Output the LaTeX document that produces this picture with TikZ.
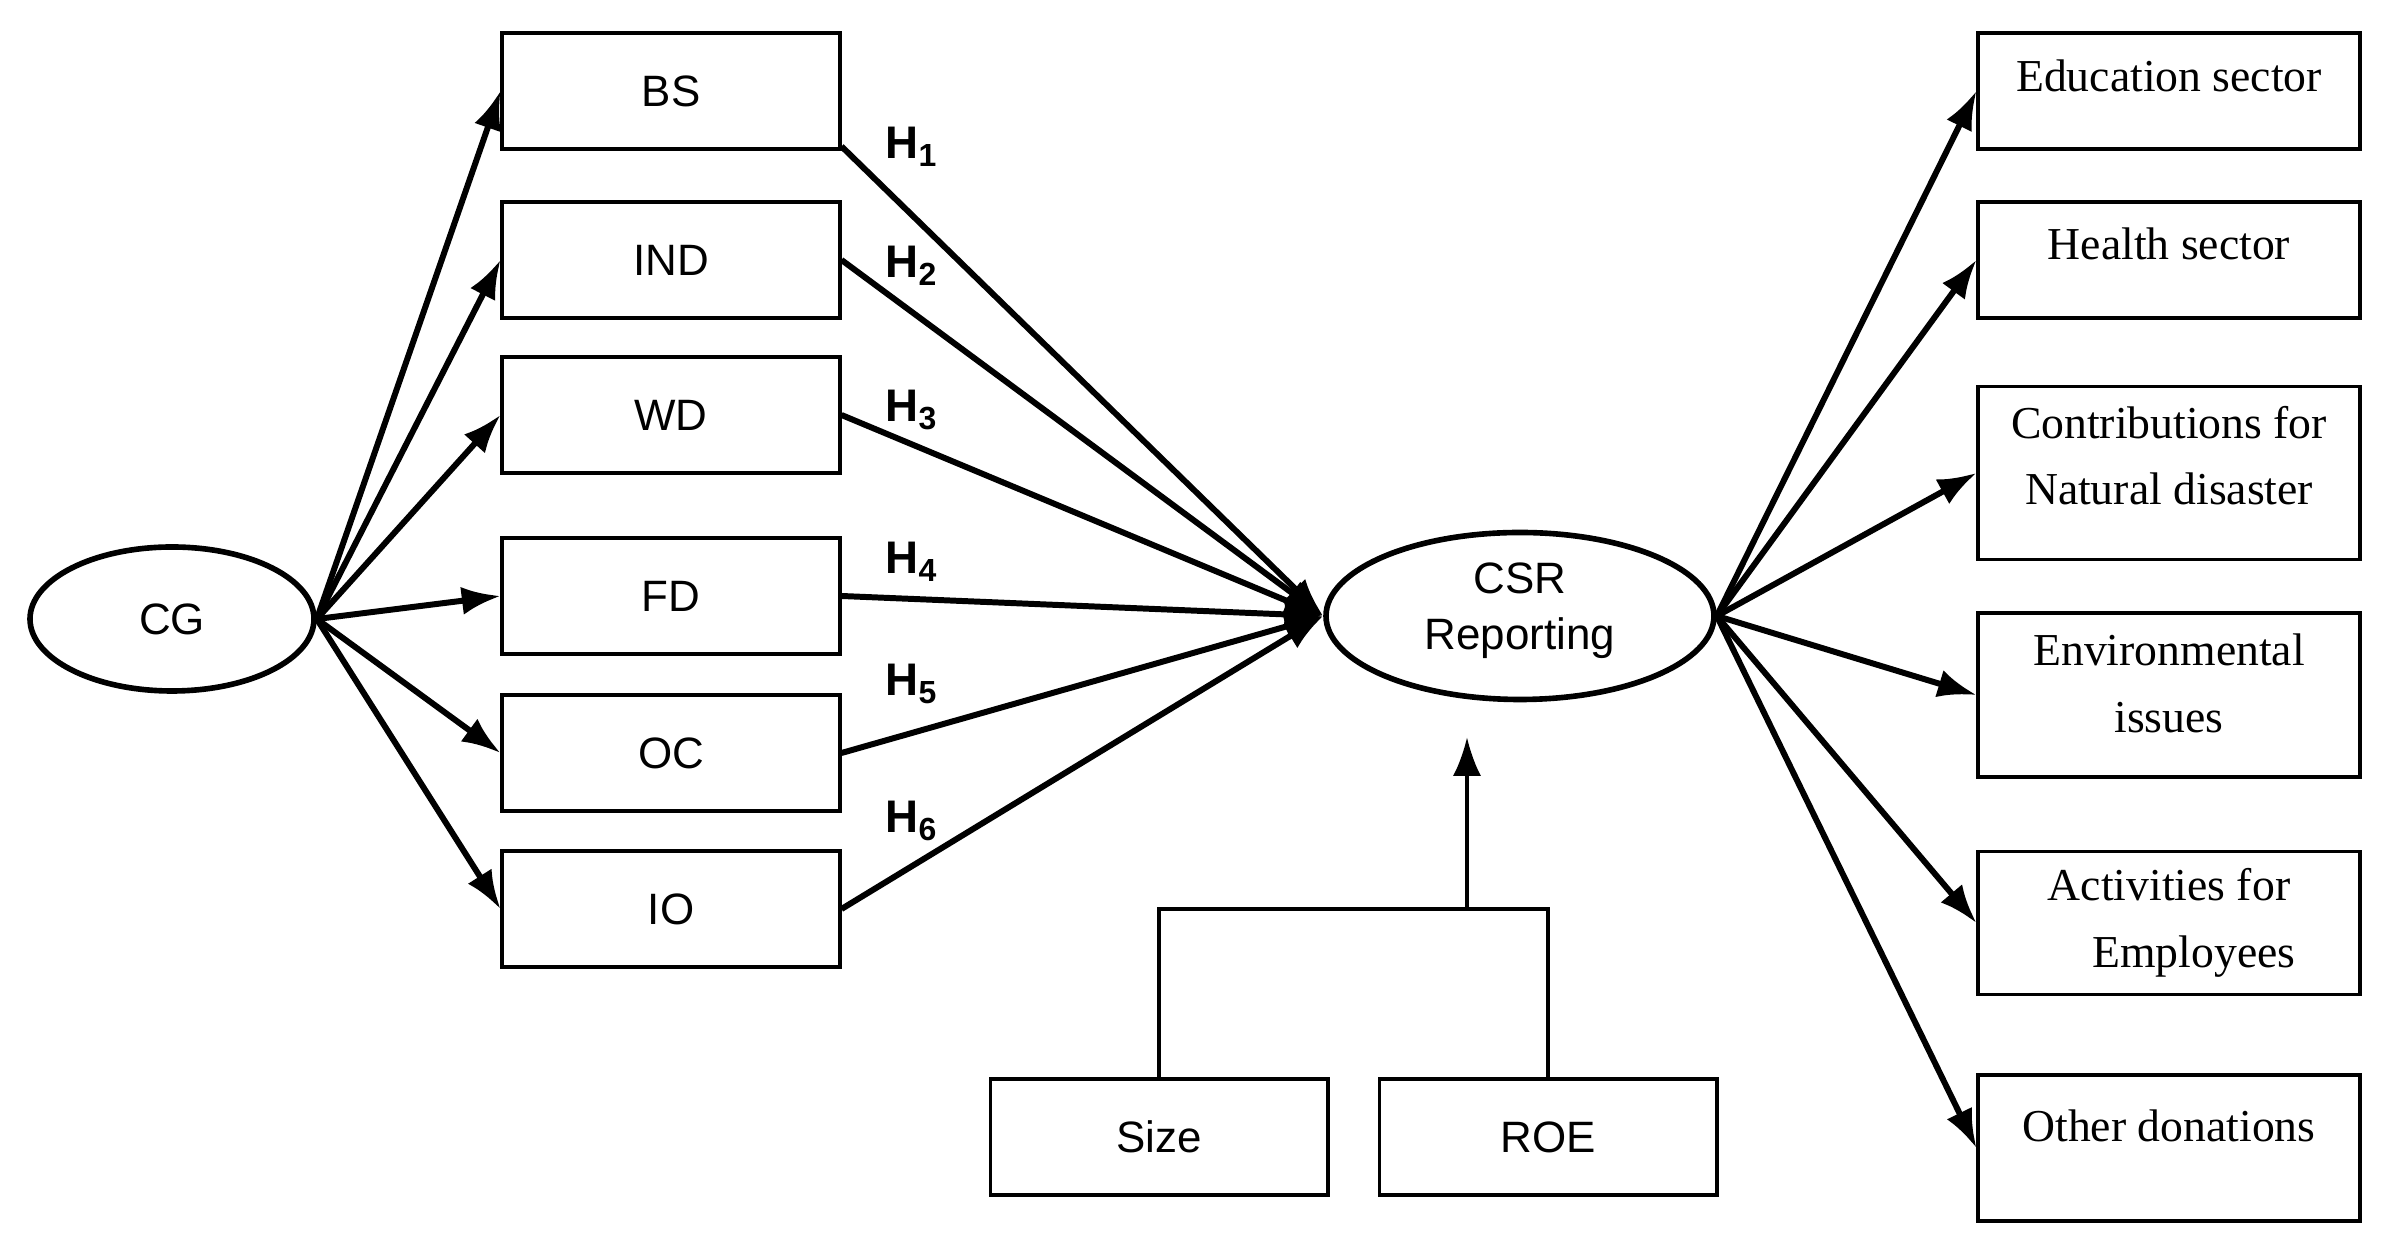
\documentclass[tikz,border=0pt]{standalone}
\usepackage{fontspec}
\setmainfont{Liberation Serif}
\setsansfont{Liberation Sans}
\usepackage{tikz}
\usetikzlibrary{shapes.geometric,arrows.meta}

\begin{document}
\begin{tikzpicture}[
    varbox/.style={draw, line width=1pt, minimum width=3.375cm, minimum height=1.156cm, inner sep=2pt, font=\sffamily\fontsize{12.5}{15}\selectfont},
    outbox/.style={draw, line width=1pt, minimum width=3.816cm, inner sep=2pt, align=center, font=\fontsize{13}{19}\selectfont},
    oval/.style={draw, ellipse, line width=1.6pt, inner sep=0pt, align=center, font=\sffamily\fontsize{12.5}{16}\selectfont},
    link/.style={-{Latex[length=11pt,width=8pt]}, line width=1.7pt},
    hyp/.style={font=\sffamily\bfseries\fontsize{13}{15}\selectfont}
  ]
    \useasboundingbox (0, 0) rectangle (23.84, 12.5);

    \node[oval, minimum width=2.84cm, minimum height=1.44cm] (cg) at (1.72, 6.31) {CG};
    \node[oval, minimum width=3.88cm, minimum height=1.67cm, text depth=0.2cm] (csr) at (15.2, 6.34) {CSR\\Reporting};

    \node[varbox] (bs) at (6.71, 11.59) {BS};
    \node[varbox] (ind) at (6.71, 9.90) {IND};
    \node[varbox] (wd) at (6.71, 8.35) {WD};
    \node[varbox] (fd) at (6.71, 6.54) {FD};
    \node[varbox] (oc) at (6.71, 4.97) {OC};
    \node[varbox] (io) at (6.71, 3.41) {IO};

    \node[varbox] (size) at (11.59, 1.13) {Size};
    \node[varbox] (roe) at (15.48, 1.13) {ROE};

    \node[outbox, minimum height=1.156cm, text depth=0.3cm] (edu) at (21.69, 11.59) {Education sector};
    \node[outbox, minimum height=1.156cm, text depth=0.32cm] (hea) at (21.69, 9.90) {Health sector};
    \node[outbox, minimum height=1.733cm, text depth=0.35cm] (nat) at (21.69, 7.77) {Contributions for\\Natural disaster};
    \node[outbox, minimum height=1.642cm, text depth=0.24cm] (env) at (21.69, 5.55) {Environmental\\issues};
    \node[outbox, minimum height=1.429cm] (emp) at (21.69, 3.27) {Activities for\\\hspace*{0.5cm}Employees};
    \node[outbox, minimum height=1.46cm, text depth=0.45cm] (oth) at (21.69, 1.02) {Other donations};

    % CG to its components
    \foreach \v in {bs, ind, wd, fd, oc, io}
      \draw[link] (cg.east) -- (\v.west);

    % hypotheses
    \draw[link] (bs.-18) -- (csr.west);
    \foreach \v in {ind, wd, fd, oc, io}
      \draw[link] (\v.east) -- (csr.west);

    \node[hyp] (h1) at (9.12, 11.03) {H\textsubscript{1}};
    \node[hyp] (h2) at (9.12, 9.84) {H\textsubscript{2}};
    \node[hyp] (h3) at (9.12, 8.40) {H\textsubscript{3}};
    \node[hyp] (h4) at (9.12, 6.88) {H\textsubscript{4}};
    \node[hyp] (h5) at (9.12, 5.66) {H\textsubscript{5}};
    \node[hyp] (h6) at (9.12, 4.29) {H\textsubscript{6}};

    % control variables
    \coordinate (join) at (14.67, 3.41);
    \draw[line width=1pt] (size.north) |- (join) -| (roe.north);
    \draw[-{Latex[length=11pt,width=8pt]}, line width=1pt, shorten >=0.35cm] (join) -- (join |- csr.south);

    % CSR reporting items
    \foreach \v in {edu, hea, nat, env, emp, oth}
      \draw[link] (csr.east) -- (\v.west);
  \end{tikzpicture}
\end{document}
